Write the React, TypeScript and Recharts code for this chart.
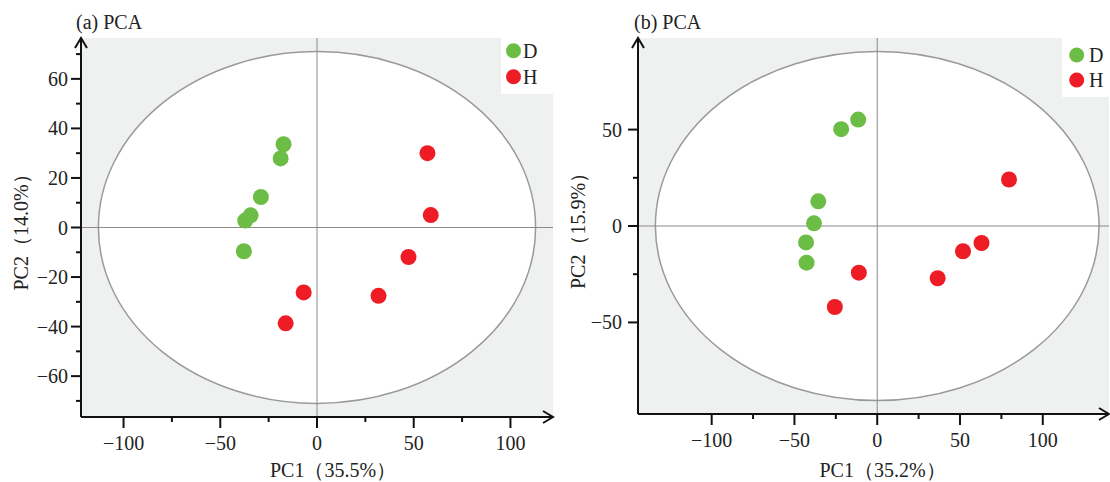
import React from 'react';
import {
  ScatterChart, Scatter, XAxis, YAxis, CartesianGrid, ReferenceLine, ReferenceArea, Legend
} from 'recharts';

const FONT = '"Liberation Serif", "Times New Roman", serif';
const GREEN = '#6cbd45';
const RED = '#ee1c25';
const FS = 20;

// (a) PCA scores
const aGroupD = [
  { x: -17.3, y: 33.6 }, { x: -18.8, y: 27.9 }, { x: -29.0, y: 12.3 },
  { x: -34.3, y: 4.9 }, { x: -37.1, y: 2.8 }, { x: -37.8, y: -9.6 },
];
const aGroupH = [
  { x: 57.1, y: 30.0 }, { x: 58.8, y: 5.0 }, { x: 47.3, y: -11.9 },
  { x: -6.9, y: -26.2 }, { x: 31.8, y: -27.6 }, { x: -16.2, y: -38.7 },
];
const aXTicks = [-100, -75, -50, -25, 0, 25, 50, 75, 100];
const aYTicks = [-70, -60, -50, -40, -30, -20, -10, 0, 10, 20, 30, 40, 50, 60, 70];

// (b) PCA scores
const bGroupD = [
  { x: -11.5, y: 55.2 }, { x: -21.8, y: 50.2 }, { x: -35.6, y: 12.8 },
  { x: -38.2, y: 1.4 }, { x: -43.0, y: -8.5 }, { x: -42.7, y: -19.0 },
];
const bGroupH = [
  { x: 79.6, y: 24.1 }, { x: 63.0, y: -8.8 }, { x: 51.8, y: -13.1 },
  { x: 36.5, y: -27.1 }, { x: -11.1, y: -24.2 }, { x: -25.6, y: -42.0 },
];
const bXTicks = [-100, -75, -50, -25, 0, 25, 50, 75, 100];
const bYTicks = [-50, -25, 0, 25, 50];

const fmt = (v: number) => (v < 0 ? '\u2212' + Math.abs(v) : String(v));

const makeXTick = (step: number) => (props: any) => {
  const { x, y, payload } = props;
  const major = payload.value % step === 0;
  return (
    <g>
      <line x1={x} y1={y} x2={x} y2={y + (major ? 11 : 5)} stroke="#111" strokeWidth={2} />
      {major && (
        <text x={x} y={y + 33} textAnchor="middle" fontSize={FS} fontFamily={FONT} fill="#222">
          {fmt(payload.value)}
        </text>
      )}
    </g>
  );
};

const makeYTick = (step: number, gap: number) => (props: any) => {
  const { x, y, payload } = props;
  const major = payload.value % step === 0;
  return (
    <g>
      <line x1={x} y1={y} x2={x - (major ? 10 : 5)} y2={y} stroke="#111" strokeWidth={2} />
      {major && (
        <text x={x - gap} y={y + 7} textAnchor="end" fontSize={FS} fontFamily={FONT} fill="#222">
          {fmt(payload.value)}
        </text>
      )}
    </g>
  );
};

// axis titles, plus the open arrow at the far end of each axis line
const XTitle = (props: any) => {
  const { viewBox, text, dx } = props;
  const { x, y, width, height } = viewBox;
  const ax = x + width;
  return (
    <g>
      <polyline points={`${ax - 10},${y - 6} ${ax},${y} ${ax - 10},${y + 6}`} fill="none" stroke="#111" strokeWidth={2} />
      <text x={x + width / 2 + dx} y={y + height - 5} textAnchor="middle" fontSize={FS} fontFamily={FONT} fill="#222">
        {text}
      </text>
    </g>
  );
};

const YTitle = (props: any) => {
  const { viewBox, text, cx } = props;
  const { x, y, width, height } = viewBox;
  const ax = x + width;
  const cy = y + height / 2;
  return (
    <g>
      <polyline points={`${ax - 6},${y + 10} ${ax},${y} ${ax + 6},${y + 10}`} fill="none" stroke="#111" strokeWidth={2} />
      <text x={x + cx} y={cy} dy={7} textAnchor="middle" transform={`rotate(-90, ${x + cx}, ${cy})`}
        fontSize={FS} fontFamily={FONT} fill="#222">
        {text}
      </text>
    </g>
  );
};

const ellipseShape = (p: any) => {
  const w = Math.abs(p.width);
  const h = Math.abs(p.height);
  const left = Math.min(p.x, p.x + p.width);
  const top = Math.min(p.y, p.y + p.height);
  return (
    <ellipse cx={left + w / 2} cy={top + h / 2} rx={w / 2} ry={h / 2}
      fill="#fff" stroke="#9a9a9a" strokeWidth={1.5} />
  );
};

const dot = (color: string) => (p: any) => <circle cx={p.cx} cy={p.cy} r={8} fill={color} />;

const makeLegend = (w: number, h: number, cx: number, y0: number, dy: number, tx: number) => (props: any) => {
  const items = props.payload || [];
  return (
    <svg width={w} height={h} style={{ display: 'block', background: '#fff' }}>
      {items.map((it: any, i: number) => (
        <g key={i}>
          <circle cx={cx} cy={y0 + i * dy} r={7.5} fill={it.color} />
          <text x={tx} y={y0 + i * dy + 7} fontSize={FS} fontFamily={FONT} fill="#222">{it.value}</text>
        </g>
      ))}
    </svg>
  );
};

interface PanelProps {
  dData: { x: number; y: number }[];
  hData: { x: number; y: number }[];
  xDomain: [number, number];
  yDomain: [number, number];
  xTicks: number[];
  yTicks: number[];
  xStep: number;
  yStep: number;
  ell: [number, number];
  width: number;
  marginRight: number;
  yAxisWidth: number;
  xAxisHeight: number;
  yGap: number;
  xLabel: string;
  yLabel: string;
  yLabelX: number;
  xLabelDx: number;
  legend: { left: number; w: number; h: number; cx: number; y0: number; dy: number; tx: number };
}

const Panel: React.FC<PanelProps> = (p) => (
  <ScatterChart width={p.width} height={482}
    margin={{ top: 38, right: p.marginRight, bottom: 0, left: 0 }}>
    <CartesianGrid horizontal={false} vertical={false} fill="#eff0f0" />
    <XAxis type="number" dataKey="x" domain={p.xDomain} ticks={p.xTicks} interval={0}
      allowDataOverflow height={p.xAxisHeight} tickSize={0} tickMargin={0} tickLine={false}
      axisLine={{ stroke: '#111', strokeWidth: 2 }}
      tick={makeXTick(p.xStep)}
      label={<XTitle text={p.xLabel} dx={p.xLabelDx} />} />
    <YAxis type="number" dataKey="y" domain={p.yDomain} ticks={p.yTicks} interval={0}
      allowDataOverflow width={p.yAxisWidth} tickSize={0} tickMargin={0} tickLine={false}
      axisLine={{ stroke: '#111', strokeWidth: 2 }}
      tick={makeYTick(p.yStep, p.yGap)}
      label={<YTitle text={p.yLabel} cx={p.yLabelX} />} />
    <ReferenceArea x1={-p.ell[0]} x2={p.ell[0]} y1={-p.ell[1]} y2={p.ell[1]} shape={ellipseShape} />
    <ReferenceLine x={0} stroke="#8a8a8a" strokeWidth={1} />
    <ReferenceLine y={0} stroke="#8a8a8a" strokeWidth={1} />
    <Scatter name="D" data={p.dData} fill={GREEN} shape={dot(GREEN)} isAnimationActive={false} />
    <Scatter name="H" data={p.hData} fill={RED} shape={dot(RED)} isAnimationActive={false} />
    <Legend layout="vertical" align="center" verticalAlign="middle"
      wrapperStyle={{ left: p.legend.left, top: 38, width: p.legend.w, height: p.legend.h }}
      content={makeLegend(p.legend.w, p.legend.h, p.legend.cx, p.legend.y0, p.legend.dy, p.legend.tx)} />
  </ScatterChart>
);

const titleStyle: React.CSSProperties = {
  position: 'absolute', top: 11, fontFamily: FONT, fontSize: FS, color: '#222', whiteSpace: 'nowrap',
};

export default function App() {
  return (
    <div style={{ position: 'absolute', left: 0, top: 0, width: 1110, height: 482, background: '#fff', overflow: 'hidden' }}>
      <div style={{ position: 'absolute', left: 0, top: 0 }}>
        <Panel dData={aGroupD} hData={aGroupH}
          xDomain={[-122, 122]} yDomain={[-76.5, 76.5]} xTicks={aXTicks} yTicks={aYTicks}
          xStep={50} yStep={20} ell={[113, 71]} width={560} marginRight={7}
          yAxisWidth={81} xAxisHeight={65} yGap={13} xLabel="PC1（35.5%）" yLabel="PC2（14.0%）"
          yLabelX={21} xLabelDx={16}
          legend={{ left: 501, w: 52, h: 56, cx: 12.5, y0: 12.7, dy: 26, tx: 22 }} />
      </div>
      <div style={{ position: 'absolute', left: 555, top: 0 }}>
        <Panel dData={bGroupD} hData={bGroupH}
          xDomain={[-144.5, 140]} yDomain={[-97.5, 97.5]} xTicks={bXTicks} yTicks={bYTicks}
          xStep={50} yStep={50} ell={[134, 90.5]} width={555} marginRight={1}
          yAxisWidth={83} xAxisHeight={68} yGap={16} xLabel="PC1（35.2%）" yLabel="PC2（15.9%）"
          yLabelX={23} xLabelDx={9}
          legend={{ left: 507, w: 48, h: 59, cx: 14.7, y0: 17, dy: 25, tx: 27 }} />
      </div>
      <div style={{ ...titleStyle, left: 76 }}>(a) PCA</div>
      <div style={{ ...titleStyle, left: 634 }}>(b) PCA</div>
    </div>
  );
}
